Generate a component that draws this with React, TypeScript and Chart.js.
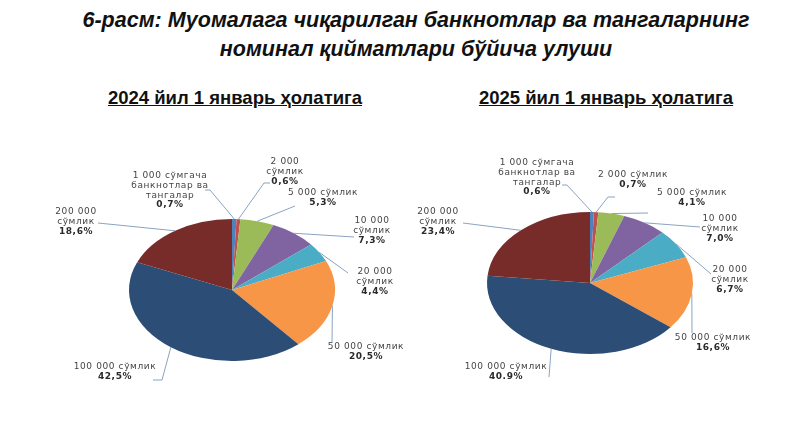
import React, { useEffect, useRef } from "react";
import { Chart, registerables } from "chart.js";

Chart.register(...registerables);

// ---------- DATA ----------
const categories = [
  "1 000 сўмгача банкнотлар ва тангалар",
  "2 000 сўмлик",
  "5 000 сўмлик",
  "10 000 сўмлик",
  "20 000 сўмлик",
  "50 000 сўмлик",
  "100 000 сўмлик",
  "200 000 сўмлик",
];
const values2024 = [0.7, 0.6, 5.3, 7.3, 4.4, 20.5, 42.5, 18.6];
const values2025 = [0.6, 0.7, 4.1, 7.0, 6.7, 16.6, 40.9, 23.4];
const labelLines2024 = [
  ["1 000 сўмгача", "банкнотлар ва", "тангалар"],
  ["2 000", "сўмлик"],
  ["5 000 сўмлик"],
  ["10 000", "сўмлик"],
  ["20 000", "сўмлик"],
  ["50 000 сўмлик"],
  ["100 000 сўмлик"],
  ["200 000", "сўмлик"],
];
const labelLines2025 = [
  ["1 000 сўмгача", "банкнотлар ва", "тангалар"],
  ["2 000 сўмлик"],
  ["5 000 сўмлик"],
  ["10 000", "сўмлик"],
  ["20 000", "сўмлик"],
  ["50 000 сўмлик"],
  ["100 000 сўмлик"],
  ["200 000", "сўмлик"],
];
const decimalSep2024 = [",", ",", ",", ",", ",", ",", ",", ","];
const decimalSep2025 = [",", ",", ",", ",", ",", ",", ".", ","];
const titleLine1 = "6-расм: Муомалага чиқарилган банкнотлар ва тангаларнинг";
const titleLine2 = "номинал қийматлари бўйича улуши";
const subtitle2024 = "2024 йил 1 январь ҳолатига";
const subtitle2025 = "2025 йил 1 январь ҳолатига";

// ---------- STYLE / LAYOUT ----------
const sliceColors = ["#4F81BD", "#C0504D", "#9BBB59", "#8064A2", "#4BACC6", "#F79646", "#2C4D75", "#772C2A"];
const RX = 103;
const RY = 71;

type LabelLayout = { tx: number; ty: number; ex: number; ey: number; bx?: number; by?: number };
const layout2024: LabelLayout[] = [
  { tx: -62, ty: -114, bx: -22, by: -100, ex: -27, ey: -100 },
  { tx: 53, ty: -128, bx: 32, by: -107, ex: 38, ey: -107 },
  { tx: 91, ty: -97, ex: 63, ey: -84 },
  { tx: 140, ty: -69, ex: 122, ey: -53 },
  { tx: 143, ty: -18, ex: 116, ey: -17 },
  { tx: 134, ty: 57, ex: 100, ey: 53 },
  { tx: -117, ty: 77, bx: -70, by: 90, ex: -79, ey: 90 },
  { tx: -156, ty: -78, ex: -134, ey: -67 },
];
const layout2025: LabelLayout[] = [
  { tx: -53, ty: -120, bx: -23, by: -98, ex: -28, ey: -98 },
  { tx: 43, ty: -108, bx: 18, by: -86, ex: 25, ey: -86 },
  { tx: 102, ty: -90, ex: 58, ey: -70 },
  { tx: 130, ty: -64, ex: 110, ey: -56 },
  { tx: 140, ty: -13, ex: 121, ey: -9 },
  { tx: 123, ty: 55, ex: 102, ey: 50 },
  { tx: -84, ty: 84, ex: -41, ey: 94 },
  { tx: -152, ty: -71, ex: -127, ey: -60 },
];

type PieProps = {
  left: number;
  top: number;
  width: number;
  height: number;
  cx: number;
  cy: number;
  values: number[];
  lines: string[][];
  seps: string[];
  layout: LabelLayout[];
};

function PieBlock(props: PieProps) {
  const ref = useRef<HTMLCanvasElement>(null);
  useEffect(() => {
    const { left, top, width, height, values, lines, seps, layout } = props;
    const cx = props.cx - left;
    const cy = props.cy - top;
    const k = RY / RX;
    const padding = {
      left: Math.max(0, 2 * cx - width),
      right: Math.max(0, width - 2 * cx),
      top: Math.max(0, 2 * cy - height),
      bottom: Math.max(0, height - 2 * cy),
    };
    const ellipsePlugin = {
      id: "ellipse",
      beforeDatasetsDraw(chart: any) {
        const a = chart.getDatasetMeta(0).data[0] as any;
        const ctx = chart.ctx;
        ctx.save();
        ctx.translate(a.x, a.y);
        ctx.scale(1, k);
        ctx.translate(-a.x, -a.y);
      },
      afterDatasetsDraw(chart: any) {
        chart.ctx.restore();
      },
    };
    const labelPlugin = {
      id: "sliceLabels",
      afterDraw(chart: any) {
        const ctx = chart.ctx as CanvasRenderingContext2D;
        const arcs = chart.getDatasetMeta(0).data as any[];
        ctx.save();
        arcs.forEach((arc, i) => {
          const mid = (arc.startAngle + arc.endAngle) / 2;
          const R = arc.outerRadius;
          const sx = arc.x + Math.cos(mid) * R;
          const sy = arc.y + Math.sin(mid) * R * k;
          const L = layout[i];
          ctx.strokeStyle = "#8AA3C2";
          ctx.lineWidth = 1;
          ctx.beginPath();
          ctx.moveTo(sx, sy);
          if (L.bx !== undefined && L.by !== undefined) ctx.lineTo(arc.x + L.bx, arc.y + L.by);
          ctx.lineTo(arc.x + L.ex, arc.y + L.ey);
          ctx.stroke();

          const txt = [...lines[i], values[i].toFixed(1).replace(".", seps[i]) + "%"];
          ctx.textAlign = "center";
          ctx.textBaseline = "middle";
          (ctx as any).letterSpacing = "0.6px";
          txt.forEach((t, j) => {
            const last = j === txt.length - 1;
            ctx.font = (last ? "bold " : "") + "9px 'DejaVu Sans'";
            ctx.fillStyle = last ? "#2a2a2a" : "#454545";
            ctx.fillText(t, arc.x + L.tx, arc.y + L.ty + j * 9.7);
          });
        });
        ctx.restore();
      },
    };
    const chart = new Chart(ref.current!, {
      type: "pie",
      data: {
        labels: categories,
        datasets: [
          {
            data: values,
            backgroundColor: sliceColors,
            borderWidth: 0,
            hoverBorderWidth: 0,
            hoverOffset: 0,
            clip: false as any,
          } as any,
        ],
      },
      options: {
        animation: false,
        responsive: false,
        maintainAspectRatio: false,
        radius: RX,
        events: [],
        layout: { padding },
        plugins: { legend: { display: false }, tooltip: { enabled: false } },
      } as any,
      plugins: [ellipsePlugin, labelPlugin],
    });
    return () => chart.destroy();
  }, []);
  return (
    <canvas
      ref={ref}
      width={props.width}
      height={props.height}
      style={{ position: "absolute", left: props.left, top: props.top, width: props.width, height: props.height }}
    />
  );
}

const narrow = "'Liberation Sans Narrow', 'Arial Narrow', 'Liberation Sans', sans-serif";

export default function App() {
  return (
    <div style={{ position: "fixed", left: 0, top: 0, width: 800, height: 425, background: "#fff", overflow: "hidden" }}>
      <div
        style={{
          position: "absolute",
          left: 16,
          top: 6,
          width: 800,
          textAlign: "center",
          fontFamily: narrow,
          fontWeight: "bold",
          fontStyle: "italic",
          fontSize: 21.5,
          lineHeight: "29px",
          color: "#111",
        }}
      >
        <div>{titleLine1}</div>
        <div>{titleLine2}</div>
      </div>
      <div
        style={{
          position: "absolute",
          left: 35,
          top: 87,
          width: 400,
          textAlign: "center",
          fontFamily: narrow,
          fontWeight: "bold",
          fontSize: 18.5,
          textDecoration: "underline",
          color: "#111",
        }}
      >
        {subtitle2024}
      </div>
      <div
        style={{
          position: "absolute",
          left: 406,
          top: 87,
          width: 400,
          textAlign: "center",
          fontFamily: narrow,
          fontWeight: "bold",
          fontSize: 18.5,
          textDecoration: "underline",
          color: "#111",
        }}
      >
        {subtitle2025}
      </div>
      <PieBlock left={0} top={110} width={440} height={315} cx={232} cy={290} values={values2024} lines={labelLines2024} seps={decimalSep2024} layout={layout2024} />
      <PieBlock left={380} top={110} width={420} height={315} cx={590} cy={283} values={values2025} lines={labelLines2025} seps={decimalSep2025} layout={layout2025} />
    </div>
  );
}
